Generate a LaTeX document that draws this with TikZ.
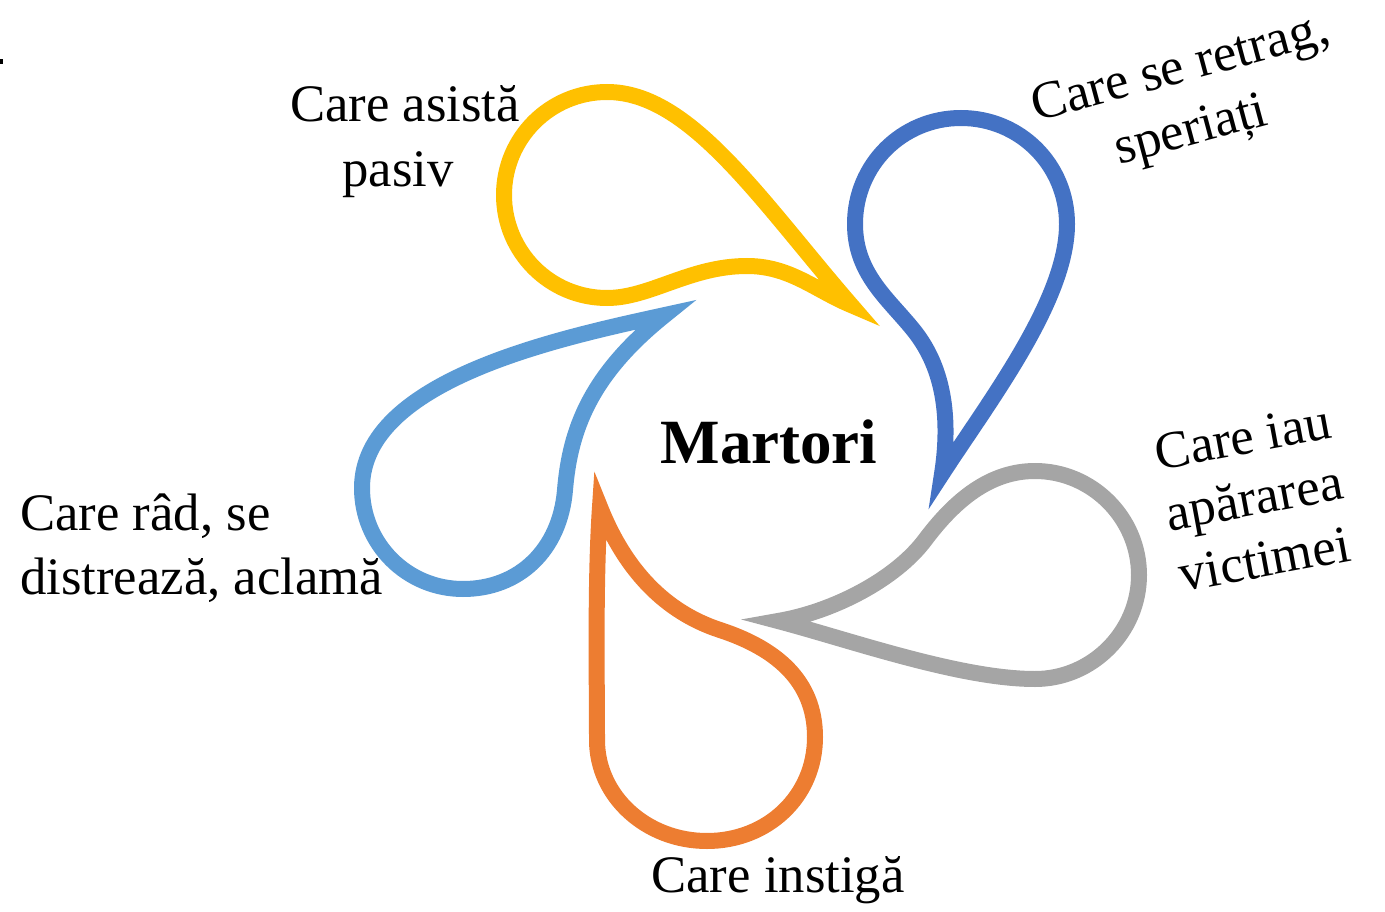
\documentclass[tikz,border=0pt]{standalone}
\usepackage{fontspec}
\setmainfont{Liberation Serif}
\definecolor{cYellow}{HTML}{FFC000}
\definecolor{cBlue}{HTML}{4472C4}
\definecolor{cGray}{HTML}{A5A5A5}
\definecolor{cOrange}{HTML}{ED7D31}
\definecolor{cLight}{HTML}{5B9BD5}
\begin{document}
\begin{tikzpicture}[x=1pt,y=-1pt,
  lbl/.style={font=\fontsize{52.7}{63}\selectfont, inner sep=0pt, anchor=base},
  tear/.style={line width=16pt, line join=miter, miter limit=10}]
\useasboundingbox (0,0) rectangle (1385,912);
\fill[black] (0,59) rectangle (2.5,64);
% yellow: Care asista pasiv
\draw[tear, cYellow] (851,305)
  .. controls (760,200) and (690,92) .. (607,92)
  .. controls (550,92) and (504,138) .. (504,195)
  .. controls (504,252) and (550,298) .. (607,298)
  .. controls (650,298) and (690,266) .. (747,266)
  .. controls (790,266) and (815,290) .. cycle;
% blue: Care se retrag
\draw[tear, cBlue] (942,474)
  .. controls (990,400) and (1067,300) .. (1067,224)
  .. controls (1067,165) and (1020,118) .. (961,118)
  .. controls (902,118) and (855,165) .. (855,224)
  .. controls (855,275) and (890,300) .. (915,332)
  .. controls (940,364) and (952,410) .. cycle;
% gray: Care iau apararea victimei
\draw[tear, cGray] (778,621)
  .. controls (850,640) and (960,679) .. (1035,679)
  .. controls (1092,679) and (1139,632) .. (1139,575)
  .. controls (1139,518) and (1092,471) .. (1035,471)
  .. controls (990,471) and (955,500) .. (925,540)
  .. controls (895,580) and (832,612) .. cycle;
% orange: Care instiga
\draw[tear, cOrange] (600,507)
  .. controls (595,580) and (597,680) .. (597,740)
  .. controls (597,796) and (646,841) .. (707,841)
  .. controls (767,841) and (815,797) .. (815,737)
  .. controls (815,680) and (775,648) .. (720,630)
  .. controls (665,612) and (625,570) .. cycle;
% light blue: Care rad, se distreaza, aclama
\draw[tear, cLight] (665,315)
  .. controls (560,338) and (362,380) .. (362,488)
  .. controls (362,544) and (407,589) .. (463,589)
  .. controls (519,589) and (560,550) .. (565,490)
  .. controls (570,430) and (590,375) .. cycle;
% labels
\node[lbl, font=\fontsize{63}{70}\selectfont\bfseries] (m) at (769,463) {Martori};
\node[lbl] (a1) at (405,122) {Care asistă};
\node[lbl] (a2) at (398,187) {pasiv};
\node[lbl, anchor=base west] (r1) at (20,530) {Care râd, se};
\node[lbl, anchor=base west] (r2) at (20,594) {distrează, aclamă};
\node[lbl] (i1) at (778,892) {Care instigă};
\begin{scope}[shift={(1184,82)}, rotate=15]
  \node[lbl, transform shape] (s1) at (0,0) {Care se retrag,};
  \node[lbl, transform shape] (s2) at (-6,63) {speriați};
\end{scope}
\begin{scope}[shift={(1246,454)}, rotate=10.5]
  \node[lbl, transform shape] (v1) at (0,0) {Care iau};
  \node[lbl, transform shape] (v2) at (0,62) {apărarea};
  \node[lbl, transform shape] (v3) at (-1,124) {victimei};
\end{scope}
\end{tikzpicture}
\end{document}
